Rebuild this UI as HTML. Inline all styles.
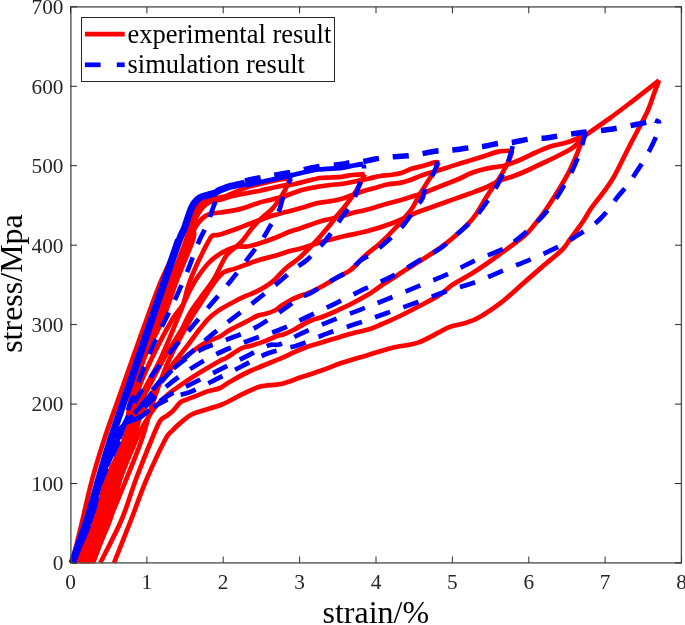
<!DOCTYPE html>
<html><head><meta charset="utf-8"><style>
html,body{margin:0;padding:0;background:#fff;}
svg{display:block;will-change:transform;}
text{font-family:"Liberation Serif",serif;fill:#000;}
.tk{font-size:21.3px;fill:#262626;}
.lg{font-size:26.5px;}
.al{font-size:32px;}
</style></head><body>
<svg width="685" height="625" viewBox="0 0 685 625">
<rect width="685" height="625" fill="#fff"/>
<defs><clipPath id="c"><rect x="68.5" y="6.8" width="613.0" height="559.2"/></clipPath></defs>
<g clip-path="url(#c)">
<path d="M71.5,563.0 C72.3,560.0 74.7,552.2 76.5,545.0 C78.3,537.8 79.9,530.8 82.5,520.0 C85.1,509.2 88.4,493.3 92.0,480.0 C95.6,466.7 99.7,453.3 104.0,440.0 C108.3,426.7 113.3,413.3 118.0,400.0 C122.7,386.7 127.4,373.3 132.1,360.0 C136.8,346.7 141.5,333.3 146.4,320.0 C151.3,306.7 155.8,293.3 161.5,280.0 C167.2,266.7 176.7,248.3 180.5,240.0 C184.3,231.7 183.2,233.2 184.5,230.0 C185.8,226.8 187.2,223.8 188.5,221.0 C189.8,218.2 191.1,215.3 192.5,213.0 C193.9,210.7 195.2,208.7 197.0,207.0 C198.8,205.3 200.8,204.1 203.0,203.0 C205.2,201.9 207.8,201.1 210.0,200.5 C212.2,199.9 215.0,199.7 216.0,199.5" fill="none" stroke="#ff0000" stroke-width="4.7" stroke-linejoin="round"/>
<path d="M76.0,563.0 C79.2,555.8 90.0,533.8 95.0,520.0 C100.0,506.2 101.2,493.3 106.0,480.0 C110.8,466.7 119.9,453.3 124.0,440.0 C128.1,426.7 127.4,413.3 130.5,400.0 C133.6,386.7 138.0,373.3 142.5,360.0 C147.0,346.7 152.8,333.3 157.5,320.0 C162.2,306.7 166.2,293.3 171.0,280.0 C175.8,266.7 182.8,249.2 186.0,240.0 C189.2,230.8 188.5,229.5 190.0,225.0 C191.5,220.5 193.3,216.3 195.0,213.0 C196.7,209.7 198.2,207.1 200.0,205.0 C201.8,202.9 203.7,201.6 206.0,200.5 C208.3,199.4 211.8,199.0 214.0,198.5 C216.2,198.0 217.2,197.8 219.0,197.5 C220.8,197.2 223.0,197.1 225.0,196.5 C227.0,195.9 227.7,195.4 231.0,194.0 C234.3,192.6 240.2,189.7 245.0,188.0 C249.8,186.3 255.0,185.2 260.0,184.0 C265.0,182.8 271.0,181.3 275.0,180.5 C279.0,179.7 281.3,179.3 284.0,179.0 C286.7,178.7 289.8,178.6 291.0,178.5" fill="none" stroke="#ff0000" stroke-width="4.7" stroke-linejoin="round"/>
<path d="M79.0,563.0 C82.2,555.8 93.0,533.8 98.0,520.0 C103.0,506.2 104.3,493.3 109.0,480.0 C113.7,466.7 122.2,453.3 126.0,440.0 C129.8,426.7 128.7,413.3 131.5,400.0 C134.3,386.7 138.3,373.3 143.0,360.0 C147.7,346.7 154.3,333.3 159.5,320.0 C164.7,306.7 169.0,293.3 174.0,280.0 C179.0,266.7 186.3,249.2 189.5,240.0 C192.7,230.8 191.6,229.3 193.0,225.0 C194.4,220.7 196.3,217.0 198.0,214.0 C199.7,211.0 201.0,209.0 203.0,207.0 C205.0,205.0 207.3,203.2 210.0,202.0 C212.7,200.8 216.5,200.6 219.0,200.0 C221.5,199.4 223.0,198.9 225.0,198.3 C227.0,197.7 227.7,197.3 231.0,196.5 C234.3,195.7 240.2,194.5 245.0,193.5 C249.8,192.5 254.0,191.9 260.0,190.7 C266.0,189.4 275.2,187.1 281.0,186.0 C286.8,184.9 291.0,184.8 295.0,184.0 C299.0,183.2 300.8,182.5 305.0,181.5 C309.2,180.5 315.8,178.7 320.0,178.0 C324.2,177.3 326.4,177.7 330.0,177.5 C333.6,177.3 338.0,177.2 341.7,176.8 C345.4,176.4 348.6,175.4 352.4,175.0 C356.2,174.6 362.6,174.2 364.7,174.1" fill="none" stroke="#ff0000" stroke-width="4.7" stroke-linejoin="round"/>
<path d="M82.0,563.0 C85.2,555.8 96.0,533.8 101.0,520.0 C106.0,506.2 107.5,493.3 112.0,480.0 C116.5,466.7 124.6,453.3 128.0,440.0 C131.4,426.7 129.9,413.3 132.5,400.0 C135.1,386.7 138.5,373.3 143.5,360.0 C148.5,346.7 156.9,333.3 162.5,320.0 C168.1,306.7 171.9,293.3 177.0,280.0 C182.1,266.7 190.2,248.3 193.0,240.0 C195.8,231.7 193.0,233.0 194.0,230.0 C195.0,227.0 197.3,224.2 199.0,222.0 C200.7,219.8 202.2,218.3 204.0,217.0 C205.8,215.7 207.3,214.8 210.0,214.0 C212.7,213.2 216.2,213.1 220.0,212.5 C223.8,211.9 228.5,211.4 232.8,210.6 C237.1,209.8 241.3,208.7 245.6,207.4 C249.9,206.1 254.1,204.2 258.4,202.9 C262.7,201.6 266.9,200.8 271.2,199.7 C275.5,198.6 280.9,197.4 284.0,196.5 C287.1,195.6 286.9,195.3 290.0,194.2 C293.1,193.1 298.5,190.9 302.8,189.7 C307.1,188.5 311.1,187.9 315.6,187.1 C320.1,186.3 325.7,185.5 330.0,185.0 C334.3,184.5 337.5,184.5 341.2,184.0 C344.9,183.5 349.0,182.7 352.4,182.0 C355.8,181.3 358.6,180.6 361.4,180.0 C364.2,179.4 366.0,179.2 369.2,178.5 C372.4,177.8 376.9,176.6 380.4,176.0 C383.9,175.4 386.5,175.5 390.0,175.0 C393.5,174.5 397.5,174.1 401.2,173.0 C404.9,171.9 408.7,169.8 412.4,168.6 C416.1,167.4 419.9,166.8 423.6,165.8 C427.3,164.8 432.2,163.0 434.8,162.4 C437.4,161.8 438.6,162.4 439.3,162.4" fill="none" stroke="#ff0000" stroke-width="4.7" stroke-linejoin="round"/>
<path d="M85.0,563.0 C88.2,555.8 99.1,533.8 104.0,520.0 C108.9,506.2 110.2,493.3 114.5,480.0 C118.8,466.7 125.8,453.3 130.0,440.0 C134.2,426.7 134.7,413.3 139.7,400.0 C144.7,386.7 153.8,373.3 160.0,360.0 C166.2,346.7 173.2,329.2 177.0,320.0 C180.8,310.8 181.1,310.8 183.0,305.0 C184.9,299.2 186.4,291.5 188.4,285.4 C190.4,279.3 192.6,274.2 195.0,268.6 C197.4,263.0 201.0,255.9 203.0,251.8 C205.0,247.7 205.5,246.6 207.0,244.0 C208.5,241.4 210.2,237.5 212.0,236.0 C213.8,234.5 215.9,235.5 218.0,235.0 C220.1,234.5 221.5,234.1 224.8,233.0 C228.1,231.9 233.3,230.1 237.6,228.5 C241.9,226.9 246.7,224.9 250.4,223.5 C254.1,222.1 256.5,221.2 260.0,220.0 C263.5,218.8 267.2,217.2 271.2,216.0 C275.2,214.8 280.9,213.3 284.0,212.5 C287.1,211.7 286.9,211.8 290.0,211.0 C293.1,210.2 298.5,208.8 302.8,207.5 C307.1,206.2 311.3,204.5 315.6,203.5 C319.9,202.5 324.1,202.2 328.4,201.5 C332.7,200.8 337.2,200.1 341.2,199.0 C345.2,197.9 348.7,196.3 352.4,195.0 C356.1,193.7 359.9,192.2 363.6,191.0 C367.3,189.8 371.1,189.1 374.8,188.0 C378.5,186.9 381.6,185.6 386.0,184.7 C390.4,183.8 396.8,183.5 401.2,182.6 C405.6,181.7 408.7,180.5 412.4,179.2 C416.1,177.9 419.9,176.0 423.6,174.7 C427.3,173.4 431.1,172.5 434.8,171.4 C438.5,170.3 441.8,169.3 446.0,168.0 C450.2,166.7 456.0,164.8 460.0,163.5 C464.0,162.2 465.9,161.8 470.0,160.5 C474.1,159.2 479.7,157.5 484.6,156.0 C489.5,154.5 494.6,152.3 499.2,151.4 C503.8,150.5 510.1,150.8 512.3,150.7" fill="none" stroke="#ff0000" stroke-width="4.7" stroke-linejoin="round"/>
<path d="M88.0,563.0 C91.2,555.8 102.2,533.8 107.0,520.0 C111.8,506.2 112.8,493.3 117.0,480.0 C121.2,466.7 129.0,453.3 132.0,440.0 C135.0,426.7 131.8,413.3 135.0,400.0 C138.2,386.7 144.8,373.3 151.0,360.0 C157.2,346.7 166.7,329.2 172.0,320.0 C177.3,310.8 179.9,309.8 182.8,305.0 C185.7,300.2 187.2,295.6 189.6,291.0 C192.0,286.4 194.2,282.2 197.4,277.5 C200.6,272.8 204.9,266.9 208.6,263.0 C212.3,259.1 215.4,256.7 219.8,254.0 C224.2,251.3 230.4,248.2 235.0,247.0 C239.6,245.8 242.9,247.2 247.2,246.5 C251.5,245.8 255.8,244.5 260.6,243.0 C265.4,241.5 271.1,239.4 276.0,237.5 C280.9,235.6 286.0,233.0 290.0,231.5 C294.0,230.0 295.0,230.2 300.0,228.5 C305.0,226.8 313.1,223.5 320.0,221.5 C326.9,219.5 335.8,217.9 341.2,216.5 C346.6,215.1 348.7,214.0 352.4,213.0 C356.1,212.0 359.9,211.4 363.6,210.5 C367.3,209.6 371.1,208.6 374.8,207.5 C378.5,206.4 381.6,205.2 386.0,204.0 C390.4,202.8 396.8,201.2 401.2,200.0 C405.6,198.8 408.7,197.7 412.4,196.5 C416.1,195.3 419.9,194.3 423.6,193.0 C427.3,191.7 431.1,190.0 434.8,188.5 C438.5,187.0 441.8,185.7 446.0,184.0 C450.2,182.3 456.0,180.2 460.0,178.5 C464.0,176.8 465.9,175.1 470.0,173.5 C474.1,171.9 479.7,170.2 484.6,169.0 C489.5,167.8 495.8,167.1 499.2,166.5 C502.6,165.9 501.4,166.7 505.0,165.5 C508.6,164.3 515.9,161.7 521.0,159.5 C526.1,157.3 530.8,154.7 535.7,152.5 C540.6,150.3 544.6,148.3 550.3,146.5 C556.0,144.7 564.2,143.5 570.0,141.5 C575.8,139.5 582.8,135.7 585.3,134.5" fill="none" stroke="#ff0000" stroke-width="4.7" stroke-linejoin="round"/>
<path d="M93.0,563.0 C95.8,555.8 104.0,533.8 109.5,520.0 C115.0,506.2 120.7,493.3 126.0,480.0 C131.3,466.7 137.0,453.3 141.6,440.0 C146.2,426.7 149.1,413.3 153.7,400.0 C158.3,386.7 162.9,373.3 169.0,360.0 C175.1,346.7 184.9,329.2 190.0,320.0 C195.1,310.8 196.5,309.8 199.6,305.0 C202.7,300.2 205.8,295.2 208.6,291.0 C211.4,286.8 213.8,283.0 216.4,279.8 C219.0,276.6 221.2,273.9 224.3,272.0 C227.4,270.1 229.6,270.5 235.0,268.6 C240.4,266.7 250.0,262.9 256.8,260.7 C263.6,258.5 270.5,257.1 276.0,255.5 C281.5,253.9 286.0,252.1 290.0,251.0 C294.0,249.9 294.4,250.4 300.0,248.8 C305.6,247.2 315.8,243.6 323.3,241.5 C330.8,239.4 337.8,237.7 345.0,236.0 C352.2,234.3 359.3,233.3 366.8,231.3 C374.3,229.3 381.5,227.2 390.0,224.0 C398.5,220.8 410.5,215.0 418.0,212.0 C425.5,209.0 430.1,207.7 434.8,206.0 C439.5,204.3 441.8,203.5 446.0,202.0 C450.2,200.5 456.0,198.4 460.0,197.0 C464.0,195.6 465.9,195.0 470.0,193.5 C474.1,192.0 479.7,190.1 484.6,188.0 C489.5,185.9 494.3,183.0 499.2,181.0 C504.1,179.0 508.9,177.8 513.8,176.0 C518.7,174.2 523.5,172.2 528.4,170.0 C533.3,167.8 538.1,165.3 543.0,163.0 C547.9,160.7 553.1,158.2 557.6,156.0 C562.1,153.8 566.9,151.3 570.0,149.5 C573.1,147.7 573.5,147.3 576.0,145.0 C578.5,142.7 579.8,139.8 585.3,135.5 C590.8,131.2 601.2,124.5 608.8,119.0 C616.3,113.5 622.2,109.0 630.6,102.6 C639.0,96.1 654.4,84.0 659.1,80.3" fill="none" stroke="#ff0000" stroke-width="4.7" stroke-linejoin="round"/>
<path d="M206.0,201.0 C205.0,202.2 201.7,205.5 200.0,208.0 C198.3,210.5 197.2,212.7 196.0,216.0 C194.8,219.3 193.3,224.0 192.5,228.0 C191.7,232.0 193.8,231.3 191.0,240.0 C188.2,248.7 180.5,266.7 175.5,280.0 C170.5,293.3 166.4,306.7 161.0,320.0 C155.6,333.3 148.0,346.7 143.2,360.0 C138.4,373.3 134.7,386.7 132.0,400.0 C129.3,413.3 130.6,426.7 127.0,440.0 C123.4,453.3 115.1,466.7 110.5,480.0 C105.9,493.3 104.5,506.2 99.5,520.0 C94.5,533.8 83.7,555.8 80.5,563.0" fill="none" stroke="#ff0000" stroke-width="4.7" stroke-linejoin="round"/>
<path d="M291.0,179.0 C290.7,179.5 290.2,179.6 289.0,181.8 C287.8,184.0 285.9,188.6 284.0,192.0 C282.1,195.4 279.7,199.0 277.6,202.0 C275.5,205.0 273.8,207.4 271.2,210.0 C268.6,212.6 265.2,214.8 262.2,217.6 C259.2,220.4 256.5,222.9 253.3,226.6 C250.1,230.3 245.6,236.9 243.0,240.0 C240.4,243.1 240.4,242.7 237.6,245.4 C234.8,248.1 229.9,250.4 226.0,256.0 C222.1,261.6 218.2,272.2 214.0,279.0 C209.8,285.8 205.0,291.3 201.0,297.0 C197.0,302.7 193.2,307.7 190.0,313.0 C186.8,318.3 185.0,323.7 182.0,329.0 C179.0,334.3 175.2,339.8 172.0,345.0 C168.8,350.2 165.8,355.0 163.0,360.0 C160.2,365.0 157.8,369.7 155.0,375.0 C152.2,380.3 148.7,387.0 146.0,392.0 C143.3,397.0 141.0,400.3 139.0,405.0 C137.0,409.7 135.7,414.2 134.0,420.0 C132.3,425.8 132.7,430.0 129.0,440.0 C125.3,450.0 116.7,466.7 112.0,480.0 C107.3,493.3 106.2,506.2 101.0,520.0 C95.8,533.8 84.3,555.8 81.0,563.0" fill="none" stroke="#ff0000" stroke-width="4.7" stroke-linejoin="round"/>
<path d="M364.7,174.1 C363.9,175.7 361.7,180.7 360.2,183.6 C358.7,186.5 357.5,188.8 355.8,191.4 C354.1,194.0 352.3,196.5 350.2,199.3 C348.1,202.1 345.6,205.4 343.4,208.2 C341.1,211.0 338.9,213.4 336.7,216.1 C334.5,218.8 333.8,220.2 330.4,224.4 C326.9,228.6 321.2,235.6 316.0,241.2 C310.8,246.8 304.3,253.5 299.2,258.0 C294.1,262.5 290.1,264.4 285.6,268.4 C281.1,272.4 277.0,278.0 272.2,281.8 C267.4,285.6 261.3,289.0 256.8,291.4 C252.3,293.8 249.5,294.3 245.3,296.2 C241.1,298.1 236.3,300.6 231.8,303.0 C227.3,305.4 222.2,308.1 218.4,310.6 C214.6,313.2 212.0,315.1 208.8,318.3 C205.6,321.5 202.7,325.3 199.2,329.8 C195.7,334.3 191.6,340.2 187.7,345.2 C183.8,350.2 179.8,355.0 176.0,360.0 C172.2,365.0 168.5,370.0 165.0,375.0 C161.5,380.0 158.0,385.5 155.0,390.0 C152.0,394.5 149.5,397.8 147.0,402.0 C144.5,406.2 142.2,410.3 140.0,415.0 C137.8,419.7 135.5,425.8 134.0,430.0 C132.5,434.2 134.2,431.7 131.0,440.0 C127.8,448.3 119.5,466.7 115.0,480.0 C110.5,493.3 109.2,506.2 104.0,520.0 C98.8,533.8 87.3,555.8 84.0,563.0" fill="none" stroke="#ff0000" stroke-width="4.7" stroke-linejoin="round"/>
<path d="M439.3,162.4 C439.1,162.6 438.9,162.0 438.2,163.5 C437.4,165.0 436.3,168.8 434.8,171.4 C433.3,174.0 431.1,176.4 429.2,179.2 C427.3,182.0 425.5,185.2 423.6,188.2 C421.7,191.2 420.1,193.5 418.0,197.1 C415.9,200.7 414.9,204.5 411.2,209.6 C407.5,214.7 400.9,221.9 395.8,227.5 C390.7,233.1 385.6,238.2 380.5,242.9 C375.4,247.6 370.1,251.2 365.1,255.7 C360.1,260.2 355.2,266.4 350.6,270.0 C346.0,273.6 342.2,274.6 337.6,277.2 C333.0,279.8 328.0,283.2 323.2,285.8 C318.4,288.4 312.9,291.2 308.8,293.0 C304.7,294.8 301.8,295.2 298.7,296.5 C295.6,297.8 292.9,298.9 290.0,300.5 C287.1,302.1 283.5,304.3 281.0,306.0 C278.5,307.7 277.5,309.2 274.8,310.5 C272.1,311.8 267.8,313.2 265.0,314.0 C262.2,314.8 261.0,314.3 258.0,315.5 C255.0,316.7 250.5,319.5 246.8,321.4 C243.1,323.3 238.7,325.4 235.6,327.0 C232.5,328.6 230.6,329.4 228.0,331.0 C225.4,332.6 224.0,334.4 220.0,336.5 C216.0,338.6 210.1,339.9 204.0,343.5 C197.9,347.1 189.9,353.3 183.5,358.4 C177.1,363.4 170.7,368.2 165.6,373.8 C160.5,379.4 156.2,386.5 152.8,391.7 C149.4,396.9 147.3,400.3 145.0,405.0 C142.7,409.7 140.9,414.2 139.0,420.0 C137.1,425.8 137.1,430.0 133.5,440.0 C129.9,450.0 121.9,466.7 117.5,480.0 C113.1,493.3 112.1,506.2 107.0,520.0 C101.9,533.8 90.3,555.8 87.0,563.0" fill="none" stroke="#ff0000" stroke-width="4.7" stroke-linejoin="round"/>
<path d="M512.3,150.7 C511.8,152.1 510.6,156.5 509.4,159.4 C508.2,162.3 506.7,165.0 505.0,168.2 C503.3,171.4 501.4,175.0 499.2,178.4 C497.0,181.8 494.3,185.0 491.9,188.6 C489.5,192.2 487.7,195.1 484.6,200.0 C481.5,204.9 478.2,211.9 473.3,217.9 C468.4,223.9 460.9,230.8 455.4,235.8 C449.8,240.8 445.4,244.1 440.0,248.0 C434.6,251.9 428.6,255.5 423.1,259.0 C417.6,262.5 412.1,265.8 407.0,269.0 C401.9,272.2 396.9,275.6 392.4,278.5 C387.9,281.4 383.7,284.0 380.0,286.5 C376.3,289.0 374.7,290.7 370.0,293.5 C365.3,296.3 357.4,300.7 352.0,303.5 C346.6,306.3 342.4,308.1 337.6,310.3 C332.8,312.5 328.0,314.6 323.2,316.5 C318.4,318.4 313.6,319.3 308.8,321.5 C304.0,323.7 298.6,327.3 294.4,329.5 C290.2,331.7 286.3,333.4 283.4,334.5 C280.5,335.6 280.3,334.8 277.0,336.0 C273.7,337.2 268.1,339.9 263.6,341.6 C259.1,343.3 253.8,344.9 250.1,346.0 C246.4,347.1 245.0,346.6 241.2,348.5 C237.3,350.4 230.5,355.4 227.0,357.5 C223.5,359.6 223.4,358.9 220.0,360.8 C216.6,362.7 212.2,365.2 206.6,368.6 C200.9,372.0 192.5,377.1 186.1,381.4 C179.7,385.7 173.3,389.9 168.2,394.2 C163.1,398.5 159.2,402.3 155.4,407.0 C151.6,411.7 148.0,417.6 145.1,422.4 C142.2,427.2 139.8,432.2 138.0,436.0 C136.2,439.8 137.0,437.7 134.0,445.0 C131.0,452.3 124.0,467.5 120.0,480.0 C116.0,492.5 114.8,506.2 110.0,520.0 C105.2,533.8 94.2,555.8 91.0,563.0" fill="none" stroke="#ff0000" stroke-width="4.7" stroke-linejoin="round"/>
<path d="M585.3,134.3 C584.8,135.2 583.5,137.6 582.5,140.0 C581.5,142.4 580.0,145.9 579.0,148.5 C578.0,151.1 578.0,151.6 576.3,155.6 C574.6,159.6 571.7,166.5 568.7,172.3 C565.7,178.1 562.2,183.9 558.4,190.2 C554.5,196.5 549.5,204.4 545.6,210.0 C541.7,215.6 538.5,219.7 535.0,224.0 C531.5,228.3 529.7,231.3 524.5,235.8 C519.3,240.3 510.4,246.5 504.0,251.2 C497.6,255.9 491.7,260.2 486.1,264.0 C480.6,267.8 476.2,270.8 470.7,274.2 C465.1,277.6 457.9,281.1 452.8,284.5 C447.7,287.9 445.8,291.0 440.0,294.7 C434.2,298.4 424.7,303.2 418.0,306.8 C411.3,310.4 406.0,313.1 400.0,316.0 C394.0,318.9 387.2,321.8 382.2,324.0 C377.2,326.2 375.0,327.4 370.0,329.0 C365.0,330.6 357.4,331.9 352.0,333.4 C346.6,334.8 342.4,336.3 337.6,337.7 C332.8,339.1 328.0,340.6 323.2,342.0 C318.4,343.4 313.6,344.6 308.8,346.3 C304.0,348.0 299.1,350.1 294.4,352.1 C289.7,354.1 288.2,355.2 280.8,358.4 C273.4,361.5 258.6,367.1 250.1,371.0 C241.6,374.9 234.6,379.2 229.6,382.0 C224.6,384.8 223.4,386.5 220.0,388.0 C216.6,389.5 211.6,390.3 209.1,391.0 C206.6,391.7 207.4,391.4 204.8,392.4 C202.2,393.4 197.0,395.6 193.6,396.9 C190.2,398.2 186.8,399.3 184.6,400.2 C182.3,401.1 182.0,400.8 180.1,402.5 C178.2,404.2 175.6,408.1 173.4,410.3 C171.2,412.5 168.9,414.1 166.7,415.9 C164.5,417.7 162.5,417.0 160.0,421.0 C157.5,425.0 155.6,430.2 151.5,440.0 C147.4,449.8 140.7,466.7 135.7,480.0 C130.7,493.3 127.4,506.2 121.5,520.0 C115.6,533.8 103.8,555.8 100.3,563.0" fill="none" stroke="#ff0000" stroke-width="4.7" stroke-linejoin="round"/>
<path d="M659.1,80.3 C658.2,82.8 655.3,90.0 653.5,95.0 C651.7,100.0 650.4,104.7 648.1,110.0 C645.8,115.3 642.4,121.4 639.5,127.0 C636.6,132.6 633.6,137.9 630.7,143.6 C627.8,149.3 624.9,155.3 622.0,161.0 C619.1,166.7 616.2,172.8 613.5,177.5 C610.8,182.2 608.2,185.8 605.5,189.5 C602.8,193.2 600.0,196.6 597.4,200.0 C594.8,203.4 592.2,206.7 590.0,210.0 C587.8,213.3 586.2,216.7 584.0,220.0 C581.8,223.3 579.4,226.7 577.0,230.0 C574.6,233.3 572.0,236.7 569.5,240.0 C567.0,243.3 566.5,245.6 562.0,250.0 C557.5,254.4 549.1,260.9 542.4,266.6 C535.7,272.4 528.7,278.5 521.9,284.5 C515.1,290.5 508.6,296.8 501.4,302.4 C494.1,307.9 484.4,314.4 478.4,317.8 C472.4,321.2 470.3,321.4 465.6,322.9 C460.9,324.4 454.5,325.2 450.2,326.7 C445.9,328.2 445.4,329.1 440.0,331.8 C434.6,334.5 425.9,339.9 418.0,342.6 C410.1,345.3 400.9,345.7 392.4,347.8 C383.9,349.9 375.3,352.8 366.8,355.4 C358.3,357.9 348.9,360.5 341.2,363.1 C333.5,365.7 327.6,368.4 320.7,370.8 C313.8,373.2 306.6,375.4 300.0,377.6 C293.4,379.8 287.4,382.5 280.8,384.0 C274.2,385.5 266.7,384.9 260.3,386.6 C253.9,388.3 248.8,391.2 242.4,394.2 C236.0,397.2 228.7,401.7 221.9,404.5 C215.1,407.3 206.5,409.2 201.4,410.9 C196.3,412.6 194.6,412.8 191.2,414.7 C187.8,416.6 184.2,419.7 181.0,422.4 C177.8,425.1 174.7,428.1 172.0,431.0 C169.3,433.9 169.3,431.8 165.0,440.0 C160.7,448.2 152.0,466.7 146.3,480.0 C140.6,493.3 136.4,506.2 131.0,520.0 C125.6,533.8 116.8,555.8 114.0,563.0" fill="none" stroke="#ff0000" stroke-width="4.7" stroke-linejoin="round"/>
<path d="M245.0,181.0 C246.8,180.6 251.8,179.3 256.0,178.5 C260.2,177.7 264.8,176.9 270.0,176.0 C275.2,175.1 282.8,173.8 287.0,173.0 C291.2,172.2 289.8,172.5 295.0,171.5 C300.2,170.5 310.5,168.0 318.0,166.8 C325.5,165.6 334.0,165.3 340.0,164.5 C346.0,163.7 350.2,162.5 354.0,162.0 C357.8,161.5 359.4,162.0 363.0,161.5 C366.6,161.0 370.9,159.8 375.4,159.0 C379.9,158.2 384.0,157.6 390.0,157.0 C396.0,156.4 403.4,156.5 411.2,155.5 C419.0,154.5 430.0,151.9 436.8,151.0 C443.6,150.1 445.6,150.9 452.0,150.2 C458.4,149.5 470.0,147.5 475.2,146.9 C480.4,146.3 479.0,147.1 483.0,146.5 C487.0,145.9 494.1,144.1 499.0,143.4 C503.9,142.7 507.1,143.1 512.3,142.4 C517.5,141.7 524.4,139.7 530.0,139.0 C535.6,138.3 540.7,138.6 546.0,138.0 C551.3,137.4 556.1,136.2 562.0,135.3 C567.9,134.4 573.8,133.6 581.6,132.6 C589.4,131.6 599.7,130.8 608.8,129.5 C617.9,128.2 628.3,126.0 636.0,124.5 C643.7,123.0 651.8,121.2 655.0,120.5" fill="none" stroke="#0000ff" stroke-width="5.5" stroke-dasharray="16 14" stroke-dashoffset="0"/>
<path d="M245.0,185.5 C246.8,185.1 251.8,183.9 256.0,183.0 C260.2,182.1 264.8,181.1 270.0,180.0 C275.2,178.9 282.8,177.4 287.0,176.5 C291.2,175.6 289.8,175.7 295.0,174.5 C300.2,173.3 310.5,170.6 318.0,169.5 C325.5,168.4 334.0,168.7 340.0,168.0 C346.0,167.3 350.2,166.2 354.0,165.5 C357.8,164.8 361.5,164.2 363.0,164.0" fill="none" stroke="#0000ff" stroke-width="4.8"/>
<path d="M72.3,563.0 C74.8,555.8 82.9,533.8 87.3,520.0 C91.7,506.2 94.9,493.3 98.8,480.0 C102.7,466.7 106.4,453.3 110.7,440.0 C115.0,426.7 119.8,413.3 124.3,400.0 C128.8,386.7 133.4,373.3 137.9,360.0 C142.4,346.7 147.0,333.3 151.5,320.0 C156.0,306.7 160.5,293.3 165.1,280.0 C169.6,266.7 176.4,246.7 178.7,240.0" fill="none" stroke="#0000ff" stroke-width="7.5"/>
<path d="M168.5,270.0 C170.3,265.0 176.5,247.0 179.2,240.0 C181.8,233.0 182.9,232.0 184.5,228.0 C186.1,224.0 187.3,219.3 188.5,216.0 C189.7,212.7 190.5,210.2 191.5,208.0 C192.5,205.8 193.3,204.4 194.3,203.0 C195.3,201.6 196.3,200.5 197.5,199.5 C198.7,198.5 199.9,197.7 201.5,197.0 C203.1,196.3 204.8,196.0 207.0,195.3 C209.2,194.6 213.0,193.8 215.0,193.0 C217.0,192.2 217.3,191.3 219.0,190.5 C220.7,189.7 223.0,188.9 225.0,188.2 C227.0,187.5 227.7,187.0 231.0,186.2 C234.3,185.4 242.7,183.7 245.0,183.2" fill="none" stroke="#0000ff" stroke-width="7"/>
<path d="M216.0,200.0 C215.5,201.3 214.1,205.0 213.0,208.0 C211.9,211.0 210.7,214.8 209.5,218.0 C208.3,221.2 207.7,223.3 206.0,227.0 C204.3,230.7 201.8,234.8 199.5,240.0 C197.2,245.2 194.8,252.0 192.5,258.0 C190.2,264.0 188.8,268.2 185.5,276.0 C182.2,283.8 176.9,295.6 172.5,305.0 C168.1,314.4 163.4,323.1 159.0,332.6 C154.6,342.1 150.0,352.1 146.0,362.0 C142.0,371.9 138.0,384.0 135.0,392.0 C132.0,400.0 129.8,404.5 128.0,410.0 C126.2,415.5 125.6,420.0 124.0,425.0 C122.4,430.0 122.4,430.8 118.6,440.0 C114.8,449.2 106.1,466.7 101.4,480.0 C96.7,493.3 95.3,506.2 90.5,520.0 C85.7,533.8 75.8,555.8 72.8,563.0" fill="none" stroke="#0000ff" stroke-width="4.7" stroke-dasharray="16 14" stroke-dashoffset="28"/>
<path d="M289.6,172.8 C289.6,174.2 290.8,176.9 289.6,181.2 C288.5,185.5 284.5,193.4 282.7,198.4 C280.9,203.4 281.0,206.5 278.9,211.2 C276.8,215.9 272.7,221.9 269.9,226.6 C267.1,231.3 265.7,234.4 262.2,239.4 C258.7,244.4 254.5,249.8 249.1,256.9 C243.7,264.0 236.7,273.5 230.0,281.8 C223.3,290.1 215.9,298.5 208.8,306.8 C201.8,315.1 194.7,323.6 187.7,331.8 C180.7,340.0 173.3,348.3 167.0,356.0 C160.7,363.7 155.2,370.7 150.0,378.0 C144.8,385.3 139.3,394.3 136.0,400.0 C132.7,405.7 132.0,407.8 130.0,412.0 C128.0,416.2 126.2,420.3 124.0,425.0 C121.8,429.7 120.5,430.8 116.5,440.0 C112.6,449.2 105.0,466.7 100.5,480.0 C96.0,493.3 94.2,506.2 89.5,520.0 C84.8,533.8 75.2,555.8 72.4,563.0" fill="none" stroke="#0000ff" stroke-width="4.7" stroke-dasharray="16 14" stroke-dashoffset="5"/>
<path d="M363.6,164.6 C363.6,165.9 364.7,167.9 363.6,172.4 C362.5,176.9 358.8,186.4 356.9,191.4 C355.0,196.4 355.0,198.1 352.4,202.6 C349.8,207.1 344.3,213.7 341.2,218.3 C338.1,222.9 336.9,225.4 333.5,230.0 C330.1,234.6 325.3,240.9 320.8,246.0 C316.3,251.1 310.7,256.7 306.4,260.4 C302.1,264.1 300.8,263.9 295.1,268.4 C289.4,272.9 280.5,280.9 272.2,287.6 C263.9,294.3 254.0,302.0 245.3,308.7 C236.7,315.4 228.3,321.5 220.3,327.9 C212.3,334.3 205.2,340.2 197.3,347.1 C189.4,354.0 180.6,361.4 173.0,369.0 C165.4,376.6 158.2,385.8 152.0,393.0 C145.8,400.2 140.7,406.7 136.0,412.0 C131.3,417.3 127.6,420.3 124.0,425.0 C120.4,429.7 118.6,430.8 114.5,440.0 C110.4,449.2 104.0,466.7 99.7,480.0 C95.3,493.3 93.1,506.2 88.5,520.0 C83.9,533.8 74.8,555.8 72.0,563.0" fill="none" stroke="#0000ff" stroke-width="4.7" stroke-dasharray="16 14" stroke-dashoffset="12"/>
<path d="M438.2,150.6 C437.8,153.5 438.0,161.9 435.9,168.0 C433.8,174.1 428.0,182.0 425.8,187.0 C423.6,192.0 424.1,194.9 422.5,198.2 C420.9,201.5 419.5,202.5 416.3,207.0 C413.1,211.5 408.2,219.4 403.5,225.0 C398.8,230.6 393.3,235.6 388.2,240.3 C383.1,245.0 377.5,249.6 372.8,253.0 C368.1,256.4 363.7,258.0 360.0,260.8 C356.3,263.6 354.3,267.3 350.6,270.0 C346.9,272.7 342.2,274.6 337.6,277.2 C333.0,279.8 328.0,283.0 323.2,285.8 C318.4,288.6 312.9,292.0 308.8,294.0 C304.7,296.0 302.8,295.5 298.7,298.0 C294.6,300.5 291.6,303.9 284.3,308.9 C277.0,313.9 264.9,322.6 254.9,327.9 C244.9,333.2 233.8,336.7 224.5,340.5 C215.2,344.3 207.4,346.0 198.9,350.7 C190.4,355.4 180.6,362.6 173.3,368.6 C166.1,374.6 161.0,380.2 155.4,386.6 C149.8,393.0 145.2,400.6 140.0,407.0 C134.8,413.4 128.6,419.5 124.0,425.0 C119.4,430.5 116.7,430.8 112.5,440.0 C108.3,449.2 102.9,466.7 98.8,480.0 C94.6,493.3 92.0,506.2 87.5,520.0 C83.0,533.8 74.2,555.8 71.6,563.0" fill="none" stroke="#0000ff" stroke-width="4.7" stroke-dasharray="16 14" stroke-dashoffset="19"/>
<path d="M512.3,142.4 C512.3,143.3 513.3,143.6 512.3,147.7 C511.3,151.8 508.4,161.6 506.5,166.7 C504.6,171.8 503.1,173.8 500.7,178.4 C498.3,183.0 496.1,188.0 491.9,194.5 C487.6,201.0 481.3,210.4 475.2,217.3 C469.1,224.2 461.3,230.6 455.4,235.8 C449.5,241.0 445.4,244.9 440.0,248.6 C434.6,252.3 431.0,253.6 423.1,258.2 C415.2,262.8 402.3,270.9 392.4,276.1 C382.5,281.3 373.1,284.8 363.5,289.4 C353.9,294.0 344.3,299.1 334.7,303.8 C325.1,308.5 314.8,313.3 305.9,317.5 C297.0,321.7 289.7,325.6 281.4,329.0 C273.1,332.4 264.6,334.8 256.0,338.0 C247.4,341.2 238.5,344.3 230.0,348.0 C221.5,351.7 213.3,355.3 205.0,360.0 C196.7,364.7 187.5,370.7 180.0,376.0 C172.5,381.3 165.7,387.0 160.0,392.0 C154.3,397.0 152.0,400.5 146.0,406.0 C140.0,411.5 128.4,419.3 124.0,425.0 C119.6,430.7 123.3,430.8 119.6,440.0 C115.9,449.2 106.6,466.7 101.8,480.0 C97.0,493.3 95.8,506.2 91.0,520.0 C86.2,533.8 76.0,555.8 73.0,563.0" fill="none" stroke="#0000ff" stroke-width="4.7" stroke-dasharray="16 14" stroke-dashoffset="26"/>
<path d="M585.5,132.5 C585.2,133.8 584.4,136.8 583.5,140.0 C582.6,143.2 581.8,147.0 580.0,152.0 C578.2,157.0 575.5,163.8 572.5,170.0 C569.5,176.2 565.8,182.7 562.0,189.0 C558.2,195.3 554.0,202.2 549.5,208.0 C545.0,213.8 540.5,218.7 535.0,224.0 C529.5,229.3 521.5,235.9 516.3,240.0 C511.1,244.1 511.2,245.0 504.0,248.6 C496.8,252.2 482.7,257.1 473.3,261.4 C463.9,265.7 456.9,270.0 447.7,274.2 C438.5,278.4 428.1,282.1 418.0,286.3 C407.9,290.5 396.9,295.2 387.3,299.1 C377.7,303.0 370.1,305.9 360.6,309.6 C351.1,313.3 340.2,317.1 330.4,321.1 C320.6,325.1 310.0,329.5 301.6,333.4 C293.2,337.2 285.6,342.2 280.0,344.2 C274.4,346.2 274.3,343.2 268.0,345.6 C261.7,348.0 250.9,354.1 242.4,358.4 C233.9,362.7 225.3,366.9 216.8,371.2 C208.3,375.5 198.9,380.2 191.2,384.0 C183.5,387.8 176.7,390.8 170.7,394.2 C164.7,397.6 160.2,400.9 155.4,404.5 C150.6,408.1 147.2,412.6 142.0,416.0 C136.8,419.4 128.4,421.0 124.0,425.0 C119.6,429.0 119.5,430.8 115.5,440.0 C111.5,449.2 104.5,466.7 100.1,480.0 C95.7,493.3 93.6,506.2 89.0,520.0 C84.4,533.8 75.0,555.8 72.2,563.0" fill="none" stroke="#0000ff" stroke-width="4.7" stroke-dasharray="16 14" stroke-dashoffset="3"/>
<path d="M655.0,120.5 C655.7,120.8 658.6,120.4 659.0,122.5 C659.4,124.6 658.8,128.8 657.5,133.0 C656.2,137.2 653.2,142.9 651.0,147.5 C648.8,152.1 646.5,156.1 644.0,160.3 C641.5,164.5 638.7,168.4 636.0,172.5 C633.3,176.6 631.1,180.5 628.0,184.6 C624.9,188.7 620.7,192.9 617.5,197.0 C614.3,201.1 611.8,205.3 609.0,208.9 C606.2,212.5 603.6,215.4 600.5,218.5 C597.4,221.6 594.7,224.2 590.5,227.2 C586.3,230.2 580.4,233.4 575.5,236.5 C570.6,239.6 567.8,242.0 561.0,245.5 C554.2,249.0 543.8,253.7 534.7,257.6 C525.6,261.5 516.4,265.1 506.6,269.1 C496.8,273.2 485.6,278.3 475.8,281.9 C466.0,285.5 457.3,287.5 447.7,290.9 C438.1,294.2 428.1,298.3 418.0,302.0 C407.9,305.7 397.0,309.4 387.0,313.0 C377.0,316.6 367.7,319.9 357.8,323.3 C347.9,326.7 337.4,329.8 327.5,333.4 C317.6,337.0 308.6,341.6 298.7,344.9 C288.8,348.2 277.4,349.8 268.0,353.3 C258.6,356.8 250.9,361.7 242.4,366.0 C233.9,370.3 225.3,374.6 216.8,378.9 C208.3,383.2 198.4,388.7 191.2,391.7 C183.9,394.7 178.9,394.7 173.3,396.8 C167.8,398.9 162.2,402.1 157.9,404.5 C153.6,406.9 150.7,408.8 147.7,410.9 C144.7,413.0 143.9,414.9 140.0,417.3 C136.1,419.7 127.7,421.2 124.0,425.0 C120.3,428.8 121.4,430.8 117.6,440.0 C113.7,449.2 105.5,466.7 100.9,480.0 C96.3,493.3 94.7,506.2 90.0,520.0 C85.3,533.8 75.5,555.8 72.6,563.0" fill="none" stroke="#0000ff" stroke-width="4.7" stroke-dasharray="16 14" stroke-dashoffset="10"/>
</g>
<rect x="70.9" y="6.9" width="610.5" height="556.0" fill="none" stroke="#555" stroke-width="1.4"/>
<line x1="70.5" y1="563.0" x2="70.5" y2="556.5" stroke="#333" stroke-width="1"/>
<line x1="70.5" y1="6.8" x2="70.5" y2="13.3" stroke="#262626" stroke-width="1"/>
<text x="70.5" y="589" text-anchor="middle" class="tk">0</text>
<line x1="146.9" y1="563.0" x2="146.9" y2="556.5" stroke="#333" stroke-width="1"/>
<line x1="146.9" y1="6.8" x2="146.9" y2="13.3" stroke="#262626" stroke-width="1"/>
<text x="146.9" y="589" text-anchor="middle" class="tk">1</text>
<line x1="223.2" y1="563.0" x2="223.2" y2="556.5" stroke="#333" stroke-width="1"/>
<line x1="223.2" y1="6.8" x2="223.2" y2="13.3" stroke="#262626" stroke-width="1"/>
<text x="223.2" y="589" text-anchor="middle" class="tk">2</text>
<line x1="299.6" y1="563.0" x2="299.6" y2="556.5" stroke="#333" stroke-width="1"/>
<line x1="299.6" y1="6.8" x2="299.6" y2="13.3" stroke="#262626" stroke-width="1"/>
<text x="299.6" y="589" text-anchor="middle" class="tk">3</text>
<line x1="376.0" y1="563.0" x2="376.0" y2="556.5" stroke="#333" stroke-width="1"/>
<line x1="376.0" y1="6.8" x2="376.0" y2="13.3" stroke="#262626" stroke-width="1"/>
<text x="376.0" y="589" text-anchor="middle" class="tk">4</text>
<line x1="452.4" y1="563.0" x2="452.4" y2="556.5" stroke="#333" stroke-width="1"/>
<line x1="452.4" y1="6.8" x2="452.4" y2="13.3" stroke="#262626" stroke-width="1"/>
<text x="452.4" y="589" text-anchor="middle" class="tk">5</text>
<line x1="528.8" y1="563.0" x2="528.8" y2="556.5" stroke="#333" stroke-width="1"/>
<line x1="528.8" y1="6.8" x2="528.8" y2="13.3" stroke="#262626" stroke-width="1"/>
<text x="528.8" y="589" text-anchor="middle" class="tk">6</text>
<line x1="605.1" y1="563.0" x2="605.1" y2="556.5" stroke="#333" stroke-width="1"/>
<line x1="605.1" y1="6.8" x2="605.1" y2="13.3" stroke="#262626" stroke-width="1"/>
<text x="605.1" y="589" text-anchor="middle" class="tk">7</text>
<line x1="681.5" y1="563.0" x2="681.5" y2="556.5" stroke="#333" stroke-width="1"/>
<line x1="681.5" y1="6.8" x2="681.5" y2="13.3" stroke="#262626" stroke-width="1"/>
<text x="681.5" y="589" text-anchor="middle" class="tk">8</text>
<line x1="70.5" y1="563.0" x2="77.0" y2="563.0" stroke="#262626" stroke-width="1"/>
<line x1="681.5" y1="563.0" x2="675.0" y2="563.0" stroke="#262626" stroke-width="1"/>
<text x="63.5" y="570.3" text-anchor="end" class="tk">0</text>
<line x1="70.5" y1="483.5" x2="77.0" y2="483.5" stroke="#262626" stroke-width="1"/>
<line x1="681.5" y1="483.5" x2="675.0" y2="483.5" stroke="#262626" stroke-width="1"/>
<text x="63.5" y="490.8" text-anchor="end" class="tk">100</text>
<line x1="70.5" y1="404.1" x2="77.0" y2="404.1" stroke="#262626" stroke-width="1"/>
<line x1="681.5" y1="404.1" x2="675.0" y2="404.1" stroke="#262626" stroke-width="1"/>
<text x="63.5" y="411.4" text-anchor="end" class="tk">200</text>
<line x1="70.5" y1="324.6" x2="77.0" y2="324.6" stroke="#262626" stroke-width="1"/>
<line x1="681.5" y1="324.6" x2="675.0" y2="324.6" stroke="#262626" stroke-width="1"/>
<text x="63.5" y="331.9" text-anchor="end" class="tk">300</text>
<line x1="70.5" y1="245.2" x2="77.0" y2="245.2" stroke="#262626" stroke-width="1"/>
<line x1="681.5" y1="245.2" x2="675.0" y2="245.2" stroke="#262626" stroke-width="1"/>
<text x="63.5" y="252.5" text-anchor="end" class="tk">400</text>
<line x1="70.5" y1="165.7" x2="77.0" y2="165.7" stroke="#262626" stroke-width="1"/>
<line x1="681.5" y1="165.7" x2="675.0" y2="165.7" stroke="#262626" stroke-width="1"/>
<text x="63.5" y="173.0" text-anchor="end" class="tk">500</text>
<line x1="70.5" y1="86.3" x2="77.0" y2="86.3" stroke="#262626" stroke-width="1"/>
<line x1="681.5" y1="86.3" x2="675.0" y2="86.3" stroke="#262626" stroke-width="1"/>
<text x="63.5" y="93.6" text-anchor="end" class="tk">600</text>
<line x1="70.5" y1="6.8" x2="77.0" y2="6.8" stroke="#262626" stroke-width="1"/>
<line x1="681.5" y1="6.8" x2="675.0" y2="6.8" stroke="#262626" stroke-width="1"/>
<text x="63.5" y="14.1" text-anchor="end" class="tk">700</text>
<rect x="81.5" y="17.5" width="253" height="64" fill="#fff" stroke="#262626" stroke-width="1"/>
<line x1="84.9" y1="34.2" x2="124.7" y2="34.2" stroke="#ff0000" stroke-width="4.7"/>
<line x1="84.9" y1="64.8" x2="100.6" y2="64.8" stroke="#0000ff" stroke-width="4.7"/>
<line x1="116.8" y1="64.8" x2="124.7" y2="64.8" stroke="#0000ff" stroke-width="4.7"/>
<text x="127.5" y="42.8" class="lg">experimental result</text>
<text x="127.5" y="73.1" class="lg">simulation result</text>
<text x="375.8" y="623" text-anchor="middle" class="al">strain/%</text>
<text transform="translate(21.5,283.5) rotate(-90)" text-anchor="middle" class="al">stress/Mpa</text>
</svg>
</body></html>
